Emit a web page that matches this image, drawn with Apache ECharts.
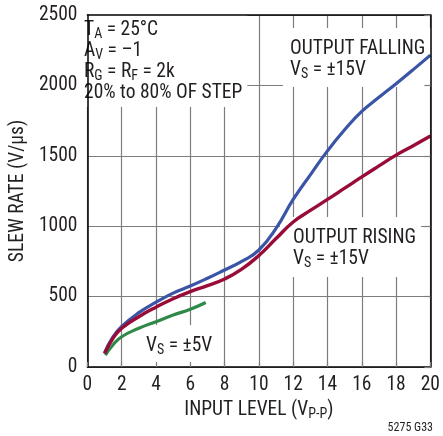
<!DOCTYPE html>
<html><head><meta charset="utf-8">
<script src="https://cdn.jsdelivr.net/npm/echarts/dist/echarts.min.js"></script>
<style>html,body{margin:0;padding:0;background:#fff}#c{width:443px;height:436px}</style>
</head><body><div id="c"></div>
<script>
const FONT = "'Roboto Condensed','DejaVu Sans Condensed',sans-serif";

// Output falling, Vs = ±15V
const fallingX = [1, 1.5, 2, 3, 4, 5, 6, 7, 8, 9, 10, 11, 12, 13, 14, 15, 16, 17, 18, 19, 20];
const fallingY = [100, 215, 288, 386, 460, 525, 575, 630, 689, 750, 831, 985, 1190, 1365, 1535, 1685, 1815, 1915, 2012, 2112, 2215];
// Output rising, Vs = ±15V
const risingX = [1, 1.5, 2, 3, 4, 5, 6, 7, 8, 9, 10, 11, 12, 13, 14, 15, 16, 17, 18, 19, 20];
const risingY = [95, 206, 275, 357, 425, 485, 535, 578, 625, 695, 792, 912, 1030, 1112, 1190, 1270, 1350, 1428, 1505, 1572, 1641];
// Vs = ±5V
const lowX = [1.05, 1.5, 2, 3, 4, 5, 6, 6.9];
const lowY = [85, 158, 215, 275, 322, 369, 410, 458];

const xMin = 0, xMax = 20, xStep = 2;
const yMin = 0, yMax = 2500, yStep = 500;

const pair = (xs, ys) => xs.map((x, i) => [x, ys[i]]);
const TXT = '#231f20';
const GRIDC = '#7d7d7d';
const FS = 19.5;
const SUB = 14;

const rich = {
  n: {fontSize: FS, lineHeight: 21, fontFamily: FONT},
  s: {fontSize: SUB, lineHeight: 12, verticalAlign: 'bottom', fontFamily: FONT}
};
function note(x, y, text, pad) {
  return {type: 'text', x: x, y: y, z: 1,
    style: {text: text, rich: rich, fill: TXT, fontFamily: FONT, fontSize: FS,
      align: 'left', verticalAlign: 'top', backgroundColor: '#fff', padding: pad}};
}

const chart = echarts.init(document.getElementById('c'), null, {renderer: 'canvas'});
const axisLbl = {color: TXT, fontSize: FS, fontFamily: FONT, formatter: v => String(v)};
chart.setOption({
  animation: false,
  backgroundColor: '#fff',
  textStyle: {fontFamily: FONT},
  grid: {left: 81, right: 10, top: 15, bottom: 69, containLabel: false},
  xAxis: [
    {type: 'value', min: xMin, max: xMax, interval: xStep, position: 'bottom', z: 0,
      axisLine: {show: false}, axisTick: {show: false}, axisLabel: {show: false},
      splitLine: {show: true, lineStyle: {color: GRIDC, width: 1.2}}},
    {type: 'value', min: xMin, max: xMax, interval: xStep, position: 'bottom', z: 5,
      axisLine: {show: true, onZero: false, lineStyle: {color: '#000', width: 1.5}},
      axisTick: {show: true, inside: true, length: 5, lineStyle: {color: GRIDC, width: 1.2}},
      axisLabel: Object.assign({margin: 8}, axisLbl),
      splitLine: {show: false},
      name: '{n|INPUT LEVEL (V}{s|P-P}{n|)}', nameLocation: 'middle', nameGap: 33,
      nameTextStyle: {color: TXT, rich: {
        n: {fontSize: FS, fontFamily: FONT, color: TXT, lineHeight: 21},
        s: {fontSize: SUB, fontFamily: FONT, color: TXT, lineHeight: 12, verticalAlign: 'bottom'}}}},
    {type: 'value', min: xMin, max: xMax, interval: xStep, position: 'top', z: 5,
      axisLine: {show: true, onZero: false, lineStyle: {color: '#000', width: 1.5}},
      axisTick: {show: false}, axisLabel: {show: false}, splitLine: {show: false}}
  ],
  yAxis: [
    {type: 'value', min: yMin, max: yMax, interval: yStep, position: 'left', z: 0,
      axisLine: {show: false}, axisTick: {show: false}, axisLabel: {show: false},
      splitLine: {show: true, lineStyle: {color: GRIDC, width: 1.2}}},
    {type: 'value', min: yMin, max: yMax, interval: yStep, position: 'left', z: 5,
      axisLine: {show: true, onZero: false, lineStyle: {color: '#000', width: 1.5}},
      axisTick: {show: false},
      axisLabel: Object.assign({margin: 10}, axisLbl),
      splitLine: {show: false},
      name: 'SLEW RATE (V/µs)', nameLocation: 'middle', nameGap: 53, nameRotate: 90,
      nameTextStyle: {color: TXT, fontSize: FS, fontFamily: FONT}},
    {type: 'value', min: yMin, max: yMax, interval: yStep, position: 'right', z: 5,
      axisLine: {show: true, onZero: false, lineStyle: {color: '#000', width: 1.5}},
      axisTick: {show: true, inside: true, length: 6, lineStyle: {color: GRIDC, width: 1.2}},
      axisLabel: {show: false}, splitLine: {show: false}}
  ],
  series: [
    {type: 'line', name: 'OUTPUT FALLING', data: pair(fallingX, fallingY), smooth: 0.5, showSymbol: false,
      xAxisIndex: 0, yAxisIndex: 0, z: 2, lineStyle: {color: '#3b55a6', width: 3.2}},
    {type: 'line', name: 'VS=±5V', data: pair(lowX, lowY), smooth: 0.5, showSymbol: false,
      xAxisIndex: 0, yAxisIndex: 0, z: 2, lineStyle: {color: '#2f8a4a', width: 3.2}},
    {type: 'line', name: 'OUTPUT RISING', data: pair(risingX, risingY), smooth: 0.5, showSymbol: false,
      xAxisIndex: 0, yAxisIndex: 0, z: 2, lineStyle: {color: '#990c38', width: 3.4}}
  ],
  graphic: [
    note(81, 15, '{n|T}{s|A}{n| = 25°C}\n{n|A}{s|V}{n| = –1}\n{n|R}{s|G}{n| = R}{s|F}{n| = 2k}\n{n|20% to 80% OF STEP}', [5, 5, 3, 3]),
    note(283, 28, '{n|OUTPUT FALLING}\n{n|V}{s|S}{n| = ±15V}', [11, 6, 6, 7]),
    note(280, 217, '{n|OUTPUT RISING}\n{n|V}{s|S}{n| = ±15V}', [11, 5, 7, 13]),
    note(140, 325, '{n|V}{s|S}{n| = ±5V}', [11, 6, 10, 6]),
    {type: 'text', x: 433, y: 428, z: 6,
      style: {text: '5275 G33', fill: TXT, fontFamily: FONT, fontSize: 12, align: 'right', verticalAlign: 'middle'}}
  ]
});
</script></body></html>
